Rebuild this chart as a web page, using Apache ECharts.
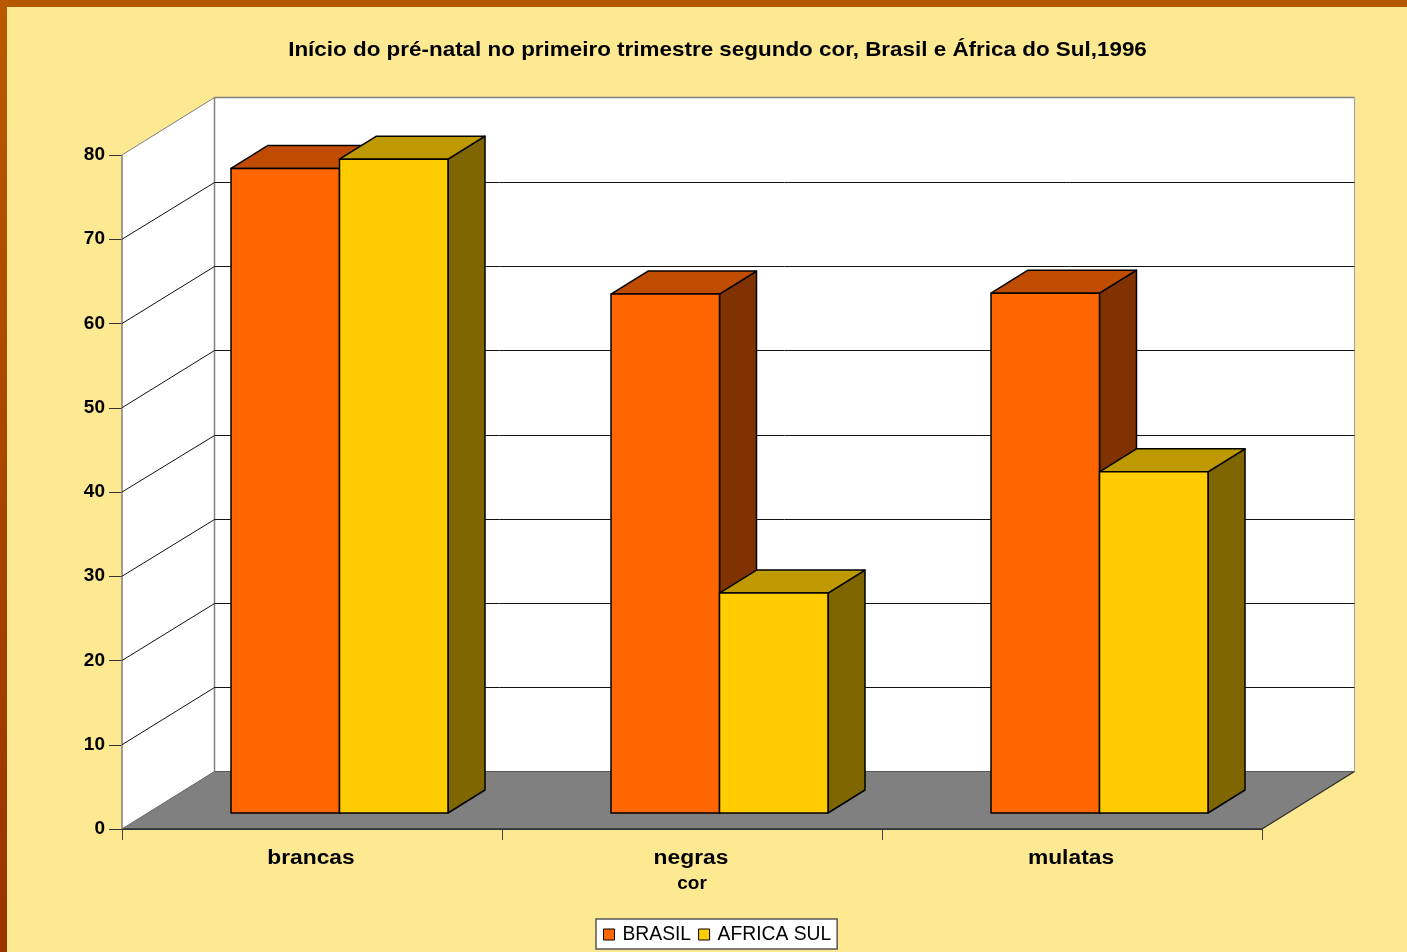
<!DOCTYPE html>
<html>
<head>
<meta charset="utf-8">
<style>html,body{margin:0;padding:0;background:#FDE992}#c{width:1407px;height:952px}</style>
<script src="https://cdn.jsdelivr.net/npm/echarts@6/dist/echarts.min.js"></script>
</head>
<body>
<div id="c"></div>
<script>
var categories = ['brancas', 'negras', 'mulatas'];
var brasil = [76.5, 61.6, 61.7];
var africaSul = [77.6, 26.1, 40.5];
var yTicks = [0, 10, 20, 30, 40, 50, 60, 70, 80];
var titleText = 'Início do pré-natal no primeiro trimestre segundo cor, Brasil e África do Sul,1996';
var FONT = '"Liberation Sans", Arial, sans-serif';
var DX = 92.5, DY = -57.5;          // floor depth
var BX = 27.5, BY = -16;            // bar plane offset from the front of the floor
var BDX = 37, BDY = -23;            // bar depth
var BAR_RATIO = 108.5 / 380;

function poly(points, fill, stroke, lw) {
  return { type: 'polygon', shape: { points: points },
    style: { fill: fill, stroke: stroke || null, lineWidth: lw || 0, lineJoin: 'round' } };
}
function seg(a, b, color, lw) {
  return { type: 'line', shape: { x1: a[0], y1: a[1], x2: b[0], y2: b[1] },
    style: { stroke: color, lineWidth: lw, fill: null } };
}
// walls
function renderFrame(params, api) {
  var r = params.coordSys, x0 = r.x, x1 = r.x + r.width, yT = r.y, yB = r.y + r.height;
  var G = '#808080';
  return { type: 'group', children: [
    poly([[x0, yB], [x0, yT], [x0 + DX, yT + DY], [x0 + DX, yB + DY]], '#fff'),
    poly([[x0 + DX, yT + DY], [x1 + DX, yT + DY], [x1 + DX, yB + DY], [x0 + DX, yB + DY]], '#fff'),
    seg([x0, yB], [x0, yT], G, 1.5),
    seg([x0, yT], [x0 + DX, yT + DY], G, 1),
    seg([x0 + DX, yT + DY], [x1 + DX, yT + DY], G, 1.5),
    seg([x0 + DX, yT + DY], [x0 + DX, yB + DY], G, 1.5),
    seg([x1 + DX, yT + DY], [x1 + DX, yB + DY], '#a8a8a8', 1.2)
  ] };
}
// gridline on both walls for one tick
function renderGrid(params, api) {
  var r = params.coordSys, v = api.value(0);
  var y = api.coord([0, v])[1], x0 = r.x, x1 = r.x + r.width;
  if (v === 0 || v === yTicks[yTicks.length - 1]) return { type: 'group', children: [] };
  var yBack = Math.round(y + DY) + 0.5;
  return { type: 'group', children: [
    seg([x0, y], [x0 + DX, yBack], '#111', 1),
    seg([x0 + DX, yBack], [x1 + DX, yBack], '#111', 1)
  ] };
}
function renderFloor(params, api) {
  var r = params.coordSys, x0 = r.x, x1 = r.x + r.width, y = r.y + r.height;
  return { type: 'group', children: [
    poly([[x0, y], [x1, y], [x1 + DX, y + DY], [x0 + DX, y + DY]], '#808080'),
    seg([x0, y], [x1, y], '#2b2b2b', 1.5),
    seg([x1, y], [x1 + DX, y + DY], '#2b2b2b', 1.2),
    seg([x0, y], [x0 + DX, y + DY], '#666', 1),
    seg([x0 + DX, y + DY], [x1 + DX, y + DY], '#5a5a5a', 1.2)
  ] };
}
function barRenderer(side, front, top, right) {
  return function (params, api) {
    var i = api.value(0), v = api.value(1);
    var p = api.coord([i, v]), b = api.coord([i, 0]);
    var w = api.size([1, 0])[0] * BAR_RATIO;
    var xL = p[0] + BX + (side < 0 ? -w : 0), xR = xL + w;
    var yT = p[1] + BY, yB = b[1] + BY;
    var K = '#000';
    return { type: 'group', children: [
      poly([[xR, yB], [xR, yT], [xR + BDX, yT + BDY], [xR + BDX, yB + BDY]], right, K, 1.5),
      poly([[xL, yT], [xL + BDX, yT + BDY], [xR + BDX, yT + BDY], [xR, yT]], top, K, 1.5),
      poly([[xL, yB], [xL, yT], [xR, yT], [xR, yB]], front, K, 1.5)
    ] };
  };
}
// category labels: the reference's type is horizontally stretched
function renderCategoryLabel(params, api) {
  var i = api.value(0), p = api.coord([i, 0]);
  return { type: 'text', x: p[0] - 1, y: p[1] + 29, scaleX: 1.14,
    style: { text: categories[i], fontFamily: FONT, fontWeight: 'bold', fontSize: 20,
      fill: '#000', align: 'center', verticalAlign: 'middle' } };
}
function pairs(arr) { return arr.map(function (v, i) { return [i, v]; }); }

var chart = echarts.init(document.getElementById('c'), null, { renderer: 'canvas' });
chart.setOption({
  animation: false,
  backgroundColor: '#FDE992',
  graphic: [
    { type: 'rect', z: -10, shape: { x: 0, y: 0, width: 1407, height: 7 },
      style: { fill: '#B35800' } },
    { type: 'rect', z: -10, shape: { x: 0, y: 0, width: 7, height: 952 },
      style: { fill: new echarts.graphic.LinearGradient(0, 0, 0, 1, [
        { offset: 0, color: '#B85A00' }, { offset: 0.45, color: '#A84800' }, { offset: 1, color: '#993300' }]) } },
    { type: 'text', x: 717.5, y: 50, scaleX: 1.094, z: 10,
      style: { text: titleText, fontFamily: FONT, fontWeight: 'bold', fontSize: 20.5,
        fill: '#000', align: 'center', verticalAlign: 'middle' } }
  ],
  legend: {
    left: 596, top: 919, height: 29,
    padding: [6, 6, 5, 7], itemGap: 7, itemWidth: 11, itemHeight: 11, icon: 'rect',
    backgroundColor: '#fff', borderColor: '#555', borderWidth: 1.5, borderRadius: 0,
    data: ['BRASIL', 'AFRICA SUL'],
    itemStyle: { borderColor: '#000', borderWidth: 1 },
    textStyle: { fontFamily: FONT, fontSize: 19.3, color: '#000', padding: [0, 0, 0, 3] }
  },
  grid: { left: 122, right: 145, top: 155, bottom: 123, containLabel: false },
  xAxis: {
    type: 'category', data: categories,
    name: 'cor', nameLocation: 'middle', nameGap: 45,
    nameTextStyle: { fontFamily: FONT, fontWeight: 'bold', fontSize: 19, color: '#000' },
    axisLine: { show: true, lineStyle: { color: '#444', width: 1 } },
    axisTick: { show: true, length: 11, alignWithLabel: false, lineStyle: { color: '#444', width: 1 } },
    axisLabel: { show: false },
    splitLine: { show: false }
  },
  yAxis: {
    type: 'value', min: 0, max: 80, interval: 10,
    axisLine: { show: false },
    axisTick: { show: true, length: 13, lineStyle: { color: '#333', width: 1 } },
    axisLabel: { fontFamily: FONT, fontWeight: 'bold', fontSize: 19, color: '#000', margin: 17, padding: [5, 0, 0, 0] },
    splitLine: { show: false }
  },
  series: [
    { type: 'custom', name: 'frame', z: 3, silent: true, coordinateSystem: 'cartesian2d',
      renderItem: renderFrame, data: [[0]], encode: { x: -1, y: -1 } },
    { type: 'custom', name: 'grid', z: 4, silent: true, renderItem: renderGrid,
      data: yTicks.map(function (v) { return [v]; }), encode: { x: -1, y: 0 } },
    { type: 'custom', name: 'floor', z: 5, silent: true, renderItem: renderFloor,
      data: [[0]], encode: { x: -1, y: -1 } },
    { type: 'custom', name: 'BRASIL', z: 6, silent: true,
      itemStyle: { color: '#FF6600' },
      renderItem: barRenderer(-1, '#FF6600', '#BF4C00', '#803300'),
      data: pairs(brasil), encode: { x: 0, y: 1 } },
    { type: 'custom', name: 'AFRICA SUL', z: 7, silent: true,
      itemStyle: { color: '#FFCC00' },
      renderItem: barRenderer(1, '#FFCC00', '#BF9900', '#806600'),
      data: pairs(africaSul), encode: { x: 0, y: 1 } },
    { type: 'custom', name: 'labels', z: 8, silent: true, renderItem: renderCategoryLabel,
      data: categories.map(function (c, i) { return [i]; }), encode: { x: 0, y: -1 } }
  ]
});
</script>
</body>
</html>
